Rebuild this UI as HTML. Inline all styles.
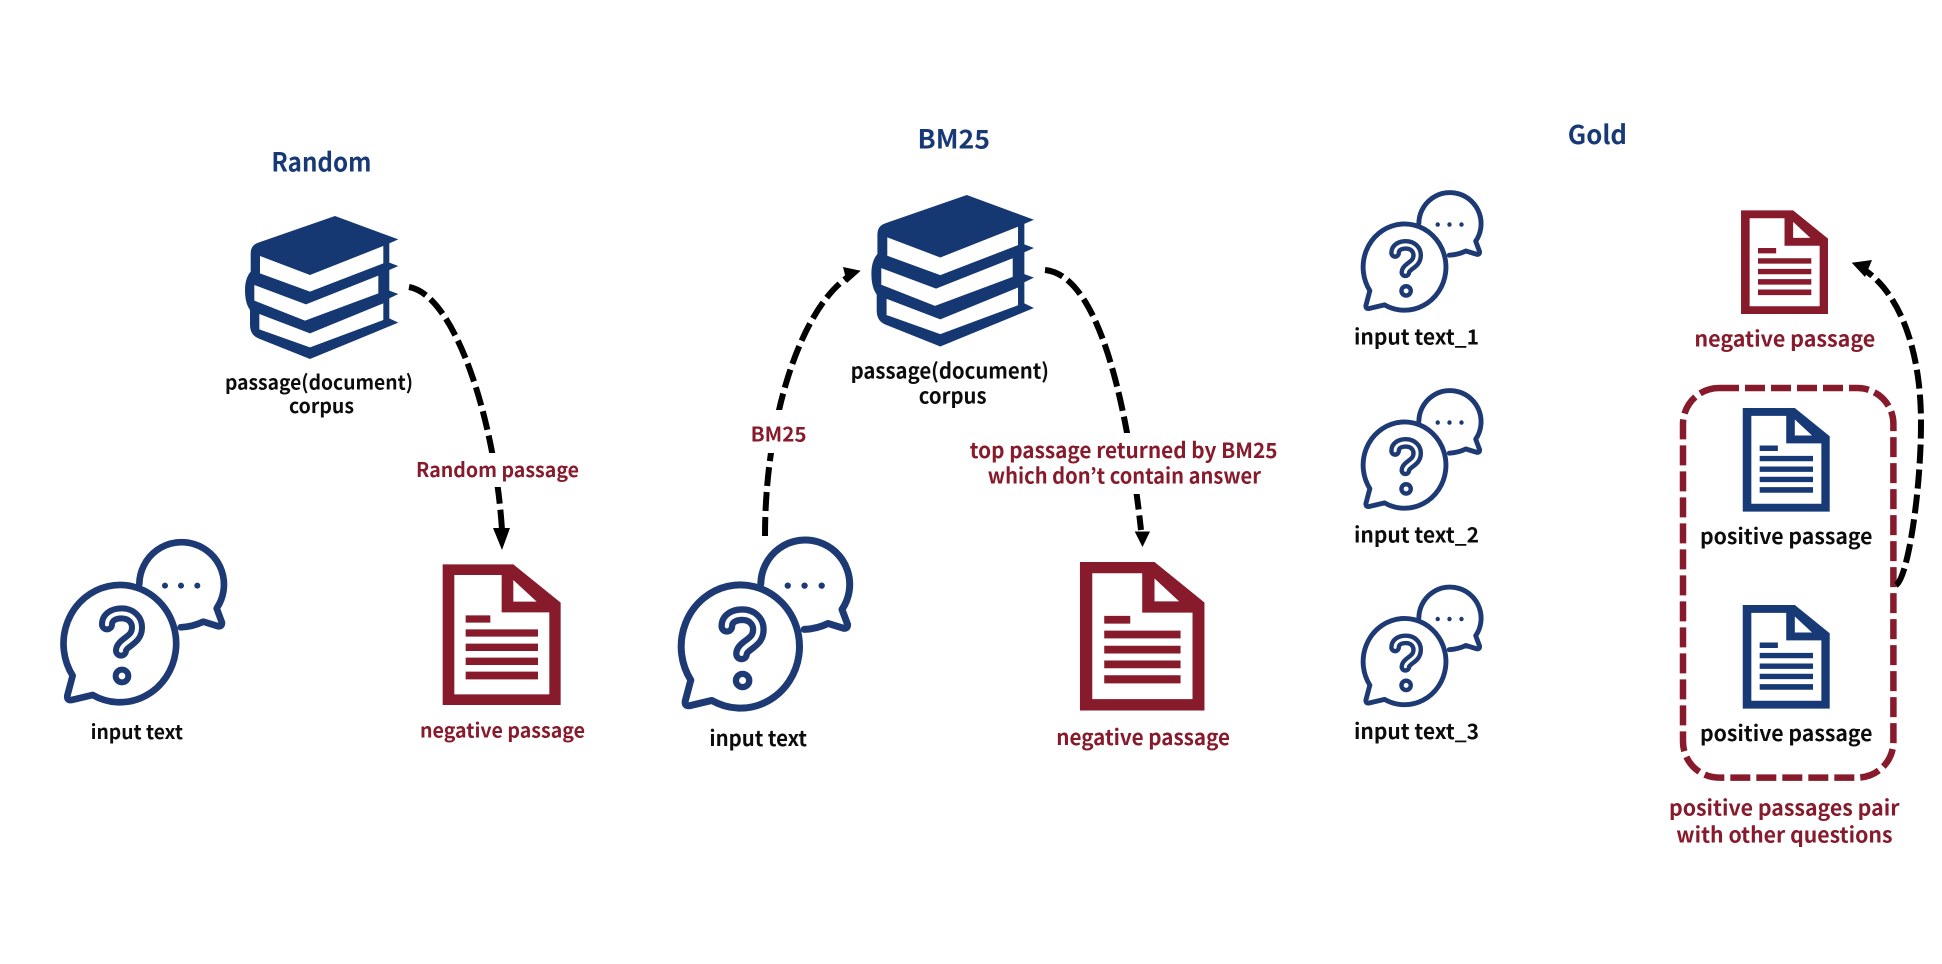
<!DOCTYPE html>
<html><head><meta charset="utf-8"><style>
html,body{margin:0;padding:0;background:#fff;width:1942px;height:964px;overflow:hidden}
svg{display:block}
text{font-family:"Noto Sans CJK KR","Liberation Sans",sans-serif;font-weight:700;text-anchor:start}
.k{fill:#0c0c0c;font-size:20px}.r{fill:#871a2b;font-size:20px}.h{fill:#173a77;font-size:26px}
.d{fill:none;stroke:#000;stroke-width:6;stroke-dasharray:19 6}
</style></head><body>
<svg width="1942" height="964" viewBox="0 0 1942 964" xmlns="http://www.w3.org/2000/svg">
<defs>
<symbol id="book" overflow="visible" viewBox="0 0 600 510" width="600" height="510">
<path fill="#163872" fill-rule="evenodd" d="M315 18L505 88L478 100V158L505 168L478 180V242L505 252L478 265V325L505 338L240 447L85 385Q60 375 60 345V300Q45 280 45 240Q45 205 62 185V130Q62 105 85 98Z
M90 138L240 195L460 108V160L240 245L90 190Z
M73 225L228 283L445 197V250L225 332L73 272Z
M88 312L240 370L460 280V330L240 412L88 358Z"/>
</symbol>
<symbol id="chat" overflow="visible" viewBox="0 0 600 570" width="600" height="570">
<g fill="none" stroke="#1d3a75" stroke-width="20" stroke-linejoin="round" stroke-linecap="round">
<path d="M268 162A127 127 0 1 1 500 235L516 278Q516 292 502 288L460 275Q430 290 392 292"/>
<path d="M128 495A169 176 0 1 0 68 437L52 497Q50 512 65 510Z"/>
<path stroke-width="48" d="M171 283C171 262 190 250 215 250C242 250 261 268 261 292C261 318 245 327 228 340C215 350 213 358 213 362"/>
<path stroke="#fff" stroke-width="12" d="M171 283C171 262 190 250 215 250C242 250 261 268 261 292C261 318 245 327 228 340C215 350 213 358 213 362"/>
<circle cx="216" cy="438" r="19" stroke-width="18"/>
</g>
<g fill="#1d3a75"><circle cx="345" cy="167" r="9"/><circle cx="393" cy="167" r="9"/><circle cx="442" cy="167" r="9"/></g>
</symbol>
<symbol id="doc" overflow="visible" viewBox="0 0 450 510" width="450" height="510">
<path fill-rule="evenodd" d="M38 43H250L392 158V465H38Z M73 75V433H358V187H215V75Z M250 90V155H320Z"/>
<path d="M107 196H181V218H107Z M107 238H324V260H107Z M107 281H324V303H107Z M107 323H324V345H107Z M107 365H324V388H107Z"/>
</symbol>
</defs>

<!-- Random -->
<text class="h" x="271.4" y="171.5" textLength="100" lengthAdjust="spacingAndGlyphs">Random</text>
<use href="#book" transform="translate(230 210) scale(.3333)"/>
<text class="k" x="225" y="389.7" textLength="188" lengthAdjust="spacingAndGlyphs">passage(document)</text>
<text class="k" x="289" y="413" textLength="65" lengthAdjust="spacingAndGlyphs">corpus</text>
<path class="d" d="M409 287C455 295 495 420 502 530"/>
<polygon points="493,528 510,528 502,550" fill="#000"/>
<rect x="410" y="453" width="175" height="34" fill="#fff"/>
<text class="r" x="416" y="477" textLength="163" lengthAdjust="spacingAndGlyphs">Random passage</text>
<use href="#chat" transform="translate(50 530) scale(.3333)"/>
<text class="k" x="90.6" y="739" textLength="92.4" lengthAdjust="spacingAndGlyphs">input text</text>
<use href="#doc" fill="#871a2b" transform="translate(430 550) scale(.3333)"/>
<text class="r" x="420" y="737.5" textLength="165" lengthAdjust="spacingAndGlyphs">negative passage</text>

<!-- BM25 -->
<text class="h" x="917.5" y="148.6" textLength="72.5" lengthAdjust="spacingAndGlyphs">BM25</text>
<use href="#book" transform="translate(855.5 188.6) scale(.3533)"/>
<text class="k" style="font-size:21px" x="850.6" y="378.4" textLength="198.4" lengthAdjust="spacingAndGlyphs">passage(document)</text>
<text class="k" style="font-size:21px" x="918.8" y="403.5" textLength="67.7" lengthAdjust="spacingAndGlyphs">corpus</text>
<path class="d" d="M765 536C765 420 800 310 848 277"/>
<polygon points="843,267 847,283 860.7,270.7" fill="#000"/>
<rect x="745" y="410" width="68" height="43" fill="#fff"/>
<text class="r" x="750.6" y="441.3" textLength="55.9" lengthAdjust="spacingAndGlyphs">BM25</text>
<path class="d" d="M1045 270C1095 275 1125 385 1141 530"/>
<polygon points="1134.7,531.5 1150,531.5 1142.5,547" fill="#000"/>
<rect x="965" y="433" width="316" height="61" fill="#fff"/>
<text class="r" style="font-size:21px" x="969.8" y="457.8" textLength="307.7" lengthAdjust="spacingAndGlyphs">top passage returned by BM25</text>
<text class="r" style="font-size:21px" x="987.8" y="483.3" textLength="273.2" lengthAdjust="spacingAndGlyphs">which don’t contain answer</text>
<use href="#chat" transform="translate(667 527.2) scale(.35)"/>
<text class="k" style="font-size:21px" x="709.4" y="746" textLength="97.6" lengthAdjust="spacingAndGlyphs">input text</text>
<use href="#doc" fill="#871a2b" transform="translate(1066.6 546.9) scale(.3517)"/>
<text class="r" style="font-size:21px" x="1056.3" y="744.8" textLength="173.7" lengthAdjust="spacingAndGlyphs">negative passage</text>

<!-- Gold -->
<text class="h" x="1567.8" y="143.8" textLength="59.2" lengthAdjust="spacingAndGlyphs">Gold</text>
<use href="#chat" transform="translate(1353.2 183.6) scale(.245)"/>
<text class="k" style="font-size:21px" x="1354" y="344.3" textLength="125" lengthAdjust="spacingAndGlyphs">input text_1</text>
<use href="#chat" transform="translate(1353.2 381.6) scale(.245)"/>
<text class="k" style="font-size:21px" x="1354" y="542.3" textLength="125" lengthAdjust="spacingAndGlyphs">input text_2</text>
<use href="#chat" transform="translate(1353.2 578.1) scale(.245)"/>
<text class="k" style="font-size:21px" x="1354" y="738.8" textLength="125" lengthAdjust="spacingAndGlyphs">input text_3</text>
<use href="#doc" fill="#871a2b" transform="translate(1731.7 199.8) scale(.2457)"/>
<text class="r" style="font-size:21px" x="1694.4" y="346.3" textLength="180.9" lengthAdjust="spacingAndGlyphs">negative passage</text>
<use href="#doc" fill="#173a77" transform="translate(1733.4 397.4) scale(.2457)"/>
<text class="k" style="font-size:21px" x="1700" y="543.8" textLength="172.5" lengthAdjust="spacingAndGlyphs">positive passage</text>
<use href="#doc" fill="#173a77" transform="translate(1733.4 594.4) scale(.2457)"/>
<text class="k" style="font-size:21px" x="1700" y="740.8" textLength="172.5" lengthAdjust="spacingAndGlyphs">positive passage</text>
<rect x="1683" y="388" width="210.4" height="389.6" rx="36" ry="36" fill="none" stroke="#871a2b" stroke-width="6.5" stroke-dasharray="20 6"/>
<path class="d" d="M1896 585C1908 578 1921 490 1921 423C1921 350 1900 295 1866 271"/>
<polygon points="1872,260 1865,277 1851.7,262.7" fill="#000"/>
<text class="r" style="font-size:21px" x="1669" y="815.4" textLength="230.5" lengthAdjust="spacingAndGlyphs">positive passages pair</text>
<text class="r" style="font-size:21px" x="1676.3" y="842.3" textLength="216.2" lengthAdjust="spacingAndGlyphs">with other questions</text>
</svg>
</body></html>
